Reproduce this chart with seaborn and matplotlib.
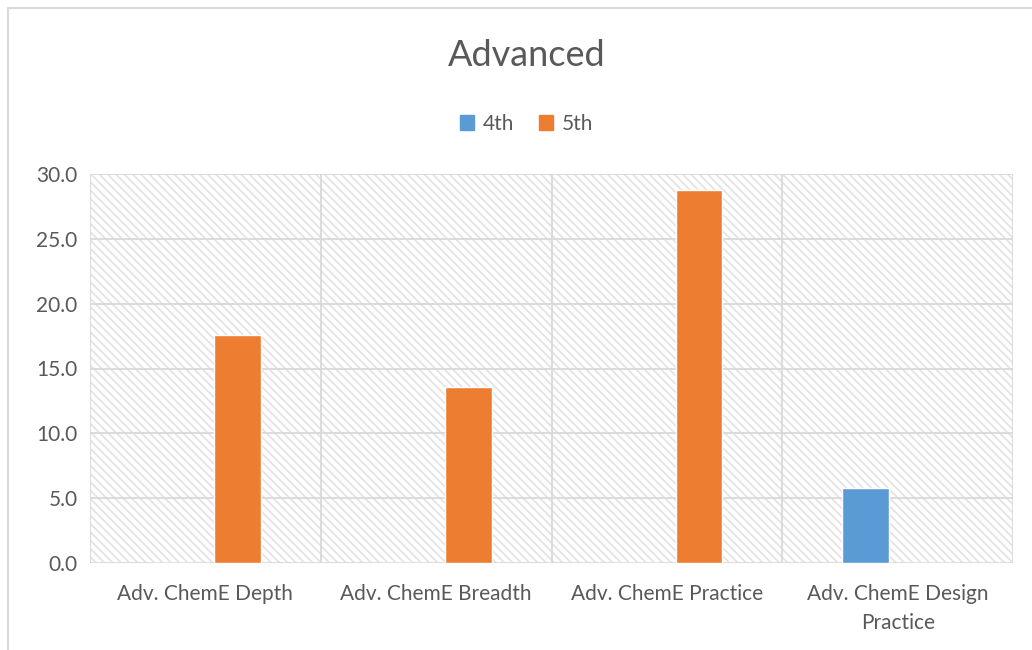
import pandas as pd
import matplotlib
matplotlib.use("Agg")
import matplotlib.pyplot as plt
import seaborn as sns
from matplotlib.patches import Rectangle

categories = ["Adv. ChemE Depth", "Adv. ChemE Breadth", "Adv. ChemE Practice",
              "Adv. ChemE Design\nPractice"]
series = ["4th", "5th"]
values_4th = [0.0, 0.0, 0.0, 5.8]
values_5th = [17.6, 13.6, 28.8, 0.0]
yticks = [0, 5, 10, 15, 20, 25, 30]
colors = {"4th": "#5b9bd5", "5th": "#ed7d31"}

df = pd.DataFrame({
    "category": categories * 2,
    "series": ["4th"] * 4 + ["5th"] * 4,
    "value": values_4th + values_5th,
})

sns.set_style("white")
plt.rcParams["font.family"] = ["Lato", "DejaVu Sans"]
plt.rcParams["hatch.color"] = "#e4e4e4"
plt.rcParams["hatch.linewidth"] = 1.3

fig = plt.figure(figsize=(10.32, 6.5), dpi=100)
ax = fig.add_axes([90 / 1032, 1 - 563 / 650, 923 / 1032, 389 / 650])

# hatched plot area background
ax.add_patch(Rectangle((0, 0), 1, 1, transform=ax.transAxes, facecolor="white",
                       edgecolor="#e4e4e4", hatch="\\" * 4, linewidth=0, zorder=0))

sns.barplot(data=df, x="category", y="value", hue="series", palette=colors,
            width=0.56, gap=0.28, saturation=1, ax=ax, zorder=3, legend=False)

ax.set_xlim(-0.5, 3.5)
ax.set_ylim(0, 30)
ax.set_yticks(yticks)
ax.set_yticklabels([f"{v:.1f}" for v in yticks])
for y in yticks:
    ax.axhline(y, color="#d9d9d9", lw=1.3, zorder=1)
for x in [-0.5, 0.5, 1.5, 2.5, 3.5]:
    ax.axvline(x, color="#d9d9d9", lw=1.3, zorder=1)
for s in ax.spines.values():
    s.set_visible(False)
ax.tick_params(axis="both", length=0, labelsize=15, colors="#595959", pad=9)
ax.tick_params(axis="x", pad=15)
for t in ax.get_xticklabels():
    t.set_linespacing(1.55)
ax.set_xlabel("")
ax.set_ylabel("")

fig.text(0.51, 1 - 55 / 650, "Advanced", ha="center", va="center",
         fontsize=26, color="#595959")

# legend
handles = [Rectangle((0, 0), 1, 1, color=colors[s]) for s in series]
fig.legend(handles, series, loc="center", bbox_to_anchor=(0.51, 1 - 124 / 650),
           ncol=2, frameon=False, fontsize=15, labelcolor="#595959",
           handlelength=0.7, handleheight=0.7, handletextpad=0.4, columnspacing=1.2)

# outer chart border
fig.patches.append(Rectangle((8 / 1032, -0.1), 1.1, 1 - 8 / 650 + 0.1,
                             transform=fig.transFigure, fill=False,
                             edgecolor="#d9d9d9", lw=1.5))

fig.savefig("out.png", dpi=100)
